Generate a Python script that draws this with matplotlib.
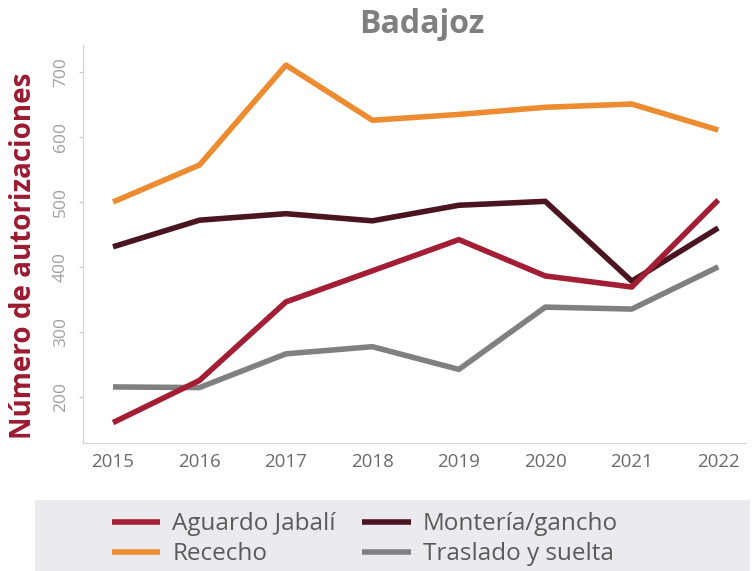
import matplotlib
matplotlib.use("Agg")
import matplotlib.pyplot as plt
from matplotlib.patches import Rectangle

years = [2015, 2016, 2017, 2018, 2019, 2020, 2021, 2022]
aguardo = [160, 225, 346, 394, 442, 386, 369, 503]
rececho = [500, 557, 711, 626, 635, 646, 651, 611]
monteria = [431, 472, 482, 471, 495, 501, 378, 460]
traslado = [215, 214, 266, 277, 242, 338, 335, 400]
yticks = [200, 300, 400, 500, 600, 700]

plt.rcParams['font.family'] = ['Open Sans', 'DejaVu Sans']

fig = plt.figure(figsize=(7.56, 5.71), dpi=100)
ax = fig.add_axes([0.1098, 0.2242, 0.8757, 0.697])

lw = 4
ax.plot(years, traslado, color='#808080', lw=lw, label='Traslado y suelta', solid_capstyle='butt')
ax.plot(years, rececho, color='#ec8b2f', lw=lw, label='Rececho', solid_capstyle='butt')
ax.plot(years, monteria, color='#4a1520', lw=lw, label='Montería/gancho', solid_capstyle='butt')
ax.plot(years, aguardo, color='#a31d35', lw=lw, label='Aguardo Jabalí', solid_capstyle='butt')

ax.set_xlim(2014.653, 2022.31)
ax.set_ylim(128.6, 742)
ax.set_xticks(years)
ax.set_xticklabels([str(y) for y in years], fontsize=13.5, color='#6a6a6a')
ax.set_yticks(yticks)
ax.set_yticklabels([str(v) for v in yticks], fontsize=12.5, color='#a0a0a0', rotation=90, va='center')
ax.tick_params(axis='y', color='#c8c8c8', length=3, pad=7)
ax.tick_params(axis='x', length=0, pad=7)

for s in ['top', 'right']:
    ax.spines[s].set_visible(False)
ax.spines['left'].set_color('#d0d0d0')
ax.spines['bottom'].set_color('#d0d0d0')

fig.text(0.031, 0.552, 'Número de autorizaciones', rotation=90, ha='center', va='center',
         fontsize=20, fontweight='bold', color='#9b1b30')
fig.text(0.558, 0.957, 'Badajoz', ha='center', va='center', fontsize=23, fontweight='bold', color='#7f7f7f')

fig.patches.append(Rectangle((0.046, 0.0), 0.946, 0.124, transform=fig.transFigure,
                             facecolor='#ebebef', edgecolor='none', zorder=0))

h, l = ax.get_legend_handles_labels()
order = ['Aguardo Jabalí', 'Rececho', 'Montería/gancho', 'Traslado y suelta']
hd = {lab: hh for hh, lab in zip(h, l)}
leg = fig.legend([hd[o] for o in order], order, loc='upper left', bbox_to_anchor=(0.148, 0.103),
                 ncol=2, frameon=False, fontsize=17.5, labelcolor='#5a5a5a',
                 handlelength=2.0, columnspacing=1.1, handletextpad=0.48, labelspacing=0.25,
                 borderpad=0, borderaxespad=0)

fig.savefig('out.png', dpi=100)
